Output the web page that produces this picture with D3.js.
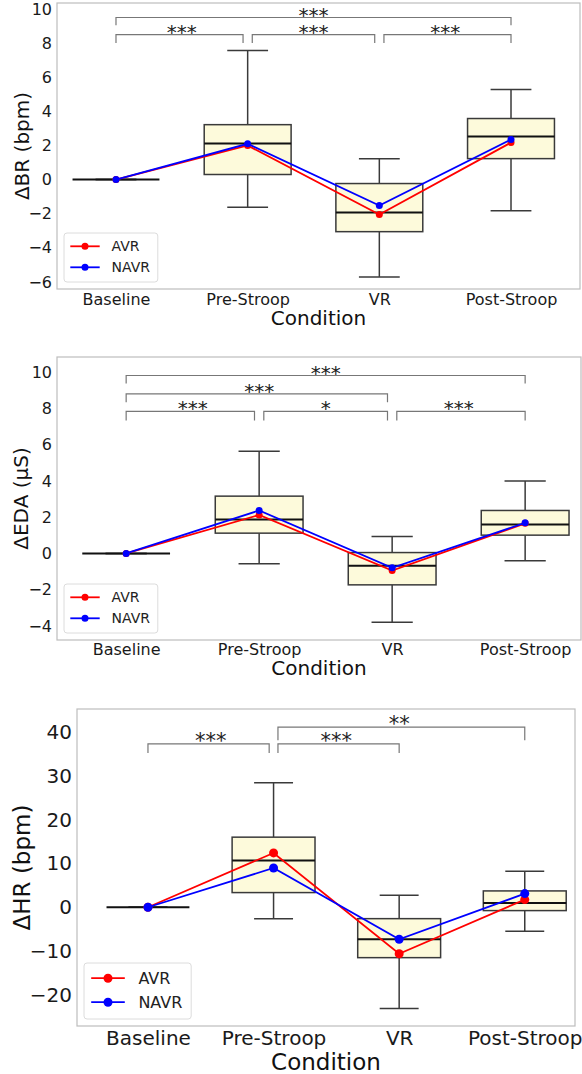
<!DOCTYPE html>
<html>
<head>
<meta charset="utf-8">
<script src="https://cdn.jsdelivr.net/npm/d3@7"></script>
<style>
  body { margin: 0; background: #fff; }
  svg { display: block; font-family: "DejaVu Sans", sans-serif; }
</style>
</head>
<body>
<div id="chart"></div>
<script>
// Conditions on the x axis
const conditions = ['Baseline', 'Pre-Stroop', 'VR', 'Post-Stroop']

// ΔBR box stats and group means
const brLow = [0, -1.62, -5.7, -1.82]
const brQ1 = [0, 0.3, -3.05, 1.23]
const brMedian = [0, 2.11, -1.93, 2.52]
const brQ3 = [0, 3.22, -0.23, 3.58]
const brHigh = [0, 7.56, 1.23, 5.28]
const brAVR = [0, 2.0, -2.05, 2.17]
const brNAVR = [0, 2.1, -1.52, 2.35]
const brTicks = [-6, -4, -2, 0, 2, 4, 6, 8, 10]
const brSigFrom = ['Baseline', 'Pre-Stroop', 'VR', 'Baseline']
const brSigTo = ['Pre-Stroop', 'VR', 'Post-Stroop', 'Post-Stroop']
const brSigY = [8.5, 8.5, 8.5, 9.5]
const brSigTip = [8.0, 8.0, 8.0, 9.05]
const brSigLabel = ['***', '***', '***', '***']

// ΔEDA
const edaLow = [0, -0.57, -3.79, -0.4]
const edaQ1 = [0, 1.12, -1.73, 1.01]
const edaMedian = [0, 1.87, -0.68, 1.6]
const edaQ3 = [0, 3.16, 0.05, 2.37]
const edaHigh = [0, 5.64, 0.94, 4.0]
const edaAVR = [0, 2.12, -0.94, 1.66]
const edaNAVR = [0, 2.37, -0.79, 1.69]
const edaTicks = [-4, -2, 0, 2, 4, 6, 8, 10]
const edaSigFrom = ['Baseline', 'Pre-Stroop', 'VR', 'Baseline', 'Baseline']
const edaSigTo = ['Pre-Stroop', 'VR', 'Post-Stroop', 'VR', 'Post-Stroop']
const edaSigY = [7.83, 7.83, 7.83, 8.8, 9.81]
const edaSigTip = [7.33, 7.33, 7.33, 8.34, 9.37]
const edaSigLabel = ['***', '*', '***', '***', '***']

// ΔHR
const hrLow = [0, -2.6, -23.1, -5.5]
const hrQ1 = [0, 3.35, -11.5, -0.76]
const hrMedian = [0, 10.7, -7.3, 0.99]
const hrQ3 = [0, 16.0, -2.6, 3.73]
const hrHigh = [0, 28.4, 2.74, 8.2]
const hrAVR = [0, 12.4, -10.6, 1.75]
const hrNAVR = [0, 8.97, -7.3, 3.12]
const hrTicks = [-20, -10, 0, 10, 20, 30, 40]
const hrSigFrom = ['Baseline', 'Pre-Stroop', 'Pre-Stroop']
const hrSigTo = ['Pre-Stroop', 'VR', 'Post-Stroop']
const hrSigY = [37.3, 37.3, 41.1]
const hrSigTip = [35.2, 35.2, 38.1]
const hrSigLabel = ['***', '***', '**']

const seriesNames = ['AVR', 'NAVR']
const seriesColors = ['#ff0000', '#0000ff']

const width = 582,
height = 1074

let svg = d3.select('#chart')
.append('svg')
.attr('width', width)
.attr('height', height)

// panel layout (pixels) - kept apart from the data
const panels = [
  {
    low: brLow, q1: brQ1, med: brMedian, q3: brQ3, high: brHigh,
    means: [brAVR, brNAVR], ticks: brTicks,
    sig: {from: brSigFrom, to: brSigTo, y: brSigY, tip: brSigTip, label: brSigLabel},
    yLabel: 'ΔBR (bpm)',
    left: 57, right: 580, top: 3, bottom: 289,
    yDomain: [-6.41, 10.35], xDomain: [0.552, 4.524],
    tickFont: 16, labelFont: 20, legendFont: 14, starFont: 20,
    yLabelX: 29, xLabelY: 325, xPad: 4.5, r: 3.5
  },
  {
    low: edaLow, q1: edaQ1, med: edaMedian, q3: edaQ3, high: edaHigh,
    means: [edaAVR, edaNAVR], ticks: edaTicks,
    sig: {from: edaSigFrom, to: edaSigTo, y: edaSigY, tip: edaSigTip, label: edaSigLabel},
    yLabel: 'ΔEDA (µS)',
    left: 57, right: 581, top: 357, bottom: 640,
    yDomain: [-4.77, 10.83], xDomain: [0.48, 4.42],
    tickFont: 16, labelFont: 20, legendFont: 14, starFont: 20,
    yLabelX: 28, xLabelY: 675, xPad: 3.8, r: 3.5
  },
  {
    low: hrLow, q1: hrQ1, med: hrMedian, q3: hrQ3, high: hrHigh,
    means: [hrAVR, hrNAVR], ticks: hrTicks,
    sig: {from: hrSigFrom, to: hrSigTo, y: hrSigY, tip: hrSigTip, label: hrSigLabel},
    yLabel: 'ΔHR (bpm)',
    left: 77, right: 575, top: 709, bottom: 1026,
    yDomain: [-27.1, 45.25], xDomain: [0.435, 4.40],
    tickFont: 20, labelFont: 23, legendFont: 16, starFont: 21,
    yLabelX: 30, xLabelY: 1070, xPad: 4.5, r: 4.5
  }
]

let drawPanel = (p) => {
  const g = svg.append('g')

  const x = d3.scaleLinear().domain(p.xDomain).range([p.left, p.right])
  const y = d3.scaleLinear().domain(p.yDomain).range([p.bottom, p.top])
  const idx = (name) => conditions.indexOf(name) + 1
  const boxW = 0.66, capW = 0.31

  // frame
  g.append('rect')
  .attr('x', p.left).attr('y', p.top)
  .attr('width', p.right - p.left).attr('height', p.bottom - p.top)
  .attr('fill', 'none').attr('stroke', '#bdbdbd').attr('stroke-width', 1.2)

  // y axis
  const yAxis = d3.axisLeft(y).tickValues(p.ticks).tickSize(0).tickPadding(5)
  const ya = g.append('g').attr('transform', `translate(${p.left},0)`).call(yAxis)
  ya.select('.domain').remove()
  ya.selectAll('text').attr('font-size', p.tickFont).attr('fill', '#1a1a1a')
  .attr('font-family', '"DejaVu Sans", sans-serif')

  // x axis
  const xAxis = d3.axisBottom(x).tickValues([1, 2, 3, 4])
  .tickFormat((d) => conditions[d - 1]).tickSize(0).tickPadding(p.xPad)
  const xa = g.append('g').attr('transform', `translate(0,${p.bottom})`).call(xAxis)
  xa.select('.domain').remove()
  xa.selectAll('text').attr('font-size', p.tickFont).attr('fill', '#1a1a1a')
  .attr('font-family', '"DejaVu Sans", sans-serif')

  // axis titles
  g.append('text')
  .attr('x', (p.left + p.right) / 2).attr('y', p.xLabelY)
  .attr('text-anchor', 'middle').attr('font-size', p.labelFont).attr('fill', '#111')
  .text('Condition')

  g.append('text')
  .attr('transform', `translate(${p.yLabelX},${(p.top + p.bottom) / 2}) rotate(-90)`)
  .attr('text-anchor', 'middle').attr('font-size', p.labelFont).attr('fill', '#111')
  .text(p.yLabel)

  // boxes
  const stats = conditions.map((c, i) => ({
    pos: i + 1, low: p.low[i], q1: p.q1[i], med: p.med[i], q3: p.q3[i], high: p.high[i]
  }))
  const boxes = g.selectAll('.box').data(stats).enter().append('g').attr('class', 'box')

  boxes.append('line')
  .attr('x1', (d) => x(d.pos)).attr('x2', (d) => x(d.pos))
  .attr('y1', (d) => y(d.high)).attr('y2', (d) => y(d.q3))
  .attr('stroke', '#3a3a3a').attr('stroke-width', 1.5)
  boxes.append('line')
  .attr('x1', (d) => x(d.pos)).attr('x2', (d) => x(d.pos))
  .attr('y1', (d) => y(d.q1)).attr('y2', (d) => y(d.low))
  .attr('stroke', '#3a3a3a').attr('stroke-width', 1.5)
  boxes.append('line')
  .attr('x1', (d) => x(d.pos - capW / 2)).attr('x2', (d) => x(d.pos + capW / 2))
  .attr('y1', (d) => y(d.high)).attr('y2', (d) => y(d.high))
  .attr('stroke', '#3a3a3a').attr('stroke-width', 1.5)
  boxes.append('line')
  .attr('x1', (d) => x(d.pos - capW / 2)).attr('x2', (d) => x(d.pos + capW / 2))
  .attr('y1', (d) => y(d.low)).attr('y2', (d) => y(d.low))
  .attr('stroke', '#3a3a3a').attr('stroke-width', 1.5)
  boxes.append('rect')
  .attr('x', (d) => x(d.pos - boxW / 2))
  .attr('width', (d) => x(d.pos + boxW / 2) - x(d.pos - boxW / 2))
  .attr('y', (d) => y(d.q3))
  .attr('height', (d) => y(d.q1) - y(d.q3))
  .attr('fill', '#fdfadb').attr('stroke', '#3a3a3a').attr('stroke-width', 1.5)
  boxes.append('line')
  .attr('x1', (d) => x(d.pos - boxW / 2)).attr('x2', (d) => x(d.pos + boxW / 2))
  .attr('y1', (d) => y(d.med)).attr('y2', (d) => y(d.med))
  .attr('stroke', '#111').attr('stroke-width', 2)

  // mean lines
  const line = d3.line().x((d, i) => x(i + 1)).y((d) => y(d))
  p.means.forEach((series, s) => {
    g.append('path').datum(series)
    .attr('d', line).attr('fill', 'none')
    .attr('stroke', seriesColors[s]).attr('stroke-width', 1.8)
    g.selectAll('.dot' + s).data(series).enter().append('circle')
    .attr('cx', (d, i) => x(i + 1)).attr('cy', (d) => y(d))
    .attr('r', p.r).attr('fill', seriesColors[s])
  })

  // significance brackets; nudge a leg where one bracket ends and another starts
  const nudge = 0.035
  const starts = new Set(p.sig.from), ends = new Set(p.sig.to)
  p.sig.from.forEach((f, k) => {
    const t = p.sig.to[k]
    let x1 = idx(f), x2 = idx(t)
    if (ends.has(f)) x1 += nudge
    if (starts.has(t)) x2 -= nudge
    const yy = y(p.sig.y[k]), tip = y(p.sig.tip[k])
    g.append('path')
    .attr('d', `M${x(x1)},${tip}V${yy}H${x(x2)}V${tip}`)
    .attr('fill', 'none').attr('stroke', '#777').attr('stroke-width', 1.2)
    g.append('text')
    .attr('x', (x(idx(f)) + x(idx(t))) / 2).attr('y', yy + p.starFont * 0.2)
    .attr('text-anchor', 'middle').attr('font-size', p.starFont).attr('fill', '#222')
    .text(p.sig.label[k])
  })

  // legend, lower left
  const fs = p.legendFont
  const lw = fs * 6.7, lh = fs * 3.5
  const lx = p.left + 7, ly = p.bottom - 7 - lh
  const leg = g.append('g').attr('transform', `translate(${lx},${ly})`)
  leg.append('rect')
  .attr('width', lw).attr('height', lh).attr('rx', 3)
  .attr('fill', '#fff').attr('fill-opacity', 0.85)
  .attr('stroke', '#dcdcdc').attr('stroke-width', 1)
  seriesNames.forEach((name, s) => {
    const yy = fs * 0.95 + s * fs * 1.5
    leg.append('line')
    .attr('x1', fs * 0.45).attr('x2', fs * 2.55).attr('y1', yy).attr('y2', yy)
    .attr('stroke', seriesColors[s]).attr('stroke-width', 1.8)
    leg.append('circle').attr('cx', fs * 1.5).attr('cy', yy).attr('r', p.r)
    .attr('fill', seriesColors[s])
    leg.append('text')
    .attr('x', fs * 3.4).attr('y', yy).attr('dy', '0.36em')
    .attr('font-size', fs).attr('fill', '#222')
    .text(name)
  })
}

panels.forEach(drawPanel)
</script>
</body>
</html>
